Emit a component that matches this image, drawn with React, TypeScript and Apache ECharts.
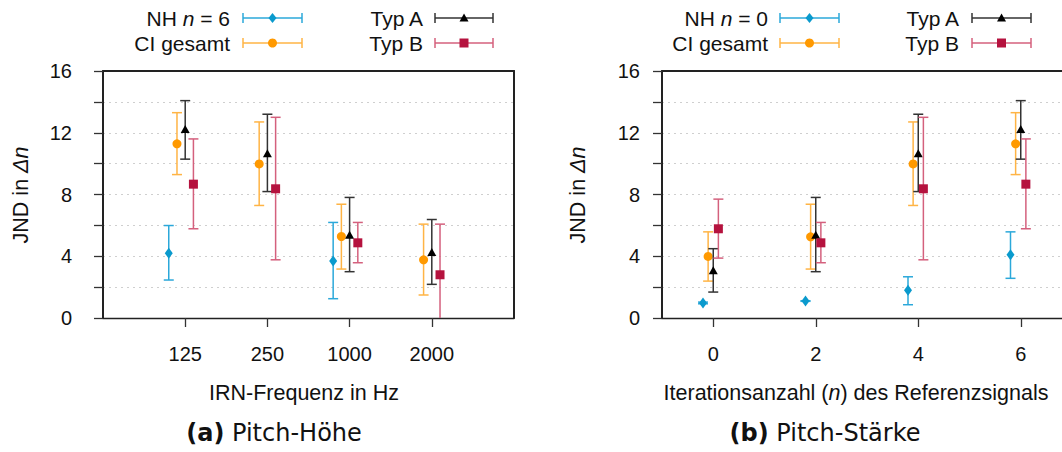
import React, { useEffect, useRef } from "react";
import * as echarts from "echarts";

const FONT = '"Liberation Sans", Arial, sans-serif';
const CAPFONT = '"DejaVu Sans", sans-serif';

// ---- Pitch-Höhe (a) ----
const freqLabels = ["125", "250", "1000", "2000"];
const freqPos = [1, 2, 3, 4];
const hNHMean = [4.2, null, 3.7, null];
const hNHLo = [2.46, null, 1.25, null];
const hNHHi = [5.99, null, 6.19, null];
const hCIMean = [11.28, 9.98, 5.28, 3.77];
const hCILo = [9.29, 7.29, 3.17, 1.49];
const hCIHi = [13.3, 12.7, 7.37, 6.08];
const hAMean = [12.25, 10.67, 5.4, 4.27];
const hALo = [10.29, 8.19, 3.0, 2.18];
const hAHi = [14.08, 13.2, 7.81, 6.38];
const hBMean = [8.67, 8.37, 4.87, 2.8];
const hBLo = [5.78, 3.77, 3.58, -0.5];
const hBHi = [11.6, 13.0, 6.19, 6.08];

// ---- Pitch-Stärke (b) ----
const iterLabels = ["0", "2", "4", "6"];
const iterPos = [0, 2, 4, 6];
const sNHMean = [0.97, 1.1, 1.79, 4.1];
const sNHLo = [0.92, 1.08, 0.86, 2.57];
const sNHHi = [1.03, 1.12, 2.67, 5.58];
const sCIMean = [3.99, 5.26, 9.98, 11.28];
const sCILo = [2.39, 3.17, 7.29, 9.29];
const sCIHi = [5.58, 7.37, 12.7, 13.3];
const sAMean = [3.1, 5.4, 10.67, 12.25];
const sALo = [1.68, 3.0, 8.19, 10.29];
const sAHi = [4.49, 7.81, 13.2, 14.08];
const sBMean = [5.78, 4.87, 8.37, 8.67];
const sBLo = [3.88, 3.58, 3.77, 5.78];
const sBHi = [7.7, 6.19, 13.0, 11.6];

const yLabelValues = [0, 4, 8, 12, 16];
const seriesOffsets = [-0.2, -0.1, 0, 0.1];

const STYLES = [
  { name: "NH", bar: "#2ba8da", mark: "#0a9acd", symbol: "diamond", size: [8, 11] },
  { name: "CI gesamt", bar: "#ffb445", mark: "#ff9900", symbol: "circle", size: 9 },
  { name: "Typ A", bar: "#333333", mark: "#000000", symbol: "triangle", size: [9, 8] },
  { name: "Typ B", bar: "#d4607d", mark: "#b5123e", symbol: "rect", size: 9 },
];

function build(pos: number[], offset: number, mean: (number | null)[], lo: (number | null)[], hi: (number | null)[]) {
  const bars: number[][] = [];
  const pts: number[][] = [];
  pos.forEach((p, i) => {
    const m = mean[i];
    if (m === null || m === undefined) return;
    bars.push([p + offset, lo[i] as number, hi[i] as number]);
    pts.push([p + offset, m]);
  });
  return { bars, pts };
}

function errRender(color: string) {
  return (params: any, api: any) => {
    const x = api.value(0);
    const lo = api.value(1);
    const hi = api.value(2);
    const cs = params.coordSys;
    const bottom = cs.y + cs.height;
    const pLo = api.coord([x, lo]);
    const pHi = api.coord([x, hi]);
    const w = 5;
    const st = { stroke: color, lineWidth: 1.5 };
    const children: any[] = [];
    const yLo = Math.min(pLo[1], bottom);
    children.push({ type: "line", shape: { x1: pLo[0], y1: yLo, x2: pHi[0], y2: pHi[1] }, style: st });
    children.push({ type: "line", shape: { x1: pHi[0] - w, y1: pHi[1], x2: pHi[0] + w, y2: pHi[1] }, style: st });
    if (pLo[1] <= bottom) {
      children.push({ type: "line", shape: { x1: pLo[0] - w, y1: pLo[1], x2: pLo[0] + w, y2: pLo[1] }, style: st });
    }
    return { type: "group", children };
  };
}

function makeSeries(gi: number, pos: number[], groups: any[]) {
  const out: any[] = [];
  groups.forEach((g, k) => {
    const s = STYLES[k];
    const { bars, pts } = build(pos, seriesOffsets[k], g[0], g[1], g[2]);
    out.push({
      type: "custom",
      xAxisIndex: gi,
      yAxisIndex: gi,
      data: bars,
      encode: { x: 0, y: [1, 2] },
      renderItem: errRender(s.bar),
      z: 2 + k * 2,
      silent: true,
    });
    out.push({
      type: "scatter",
      xAxisIndex: gi,
      yAxisIndex: gi,
      data: pts,
      symbol: s.symbol,
      symbolSize: s.size,
      itemStyle: { color: s.mark, opacity: 1 },
      z: 3 + k * 2,
      silent: true,
    });
  });
  return out;
}

function legendMarker(k: number, cx: number, cy: number) {
  const s = STYLES[k];
  const style = { fill: s.mark };
  if (s.symbol === "diamond") {
    return { type: "polygon", shape: { points: [[cx, cy - 5], [cx + 4, cy], [cx, cy + 5], [cx - 4, cy]] }, style, z: 10 };
  }
  if (s.symbol === "circle") {
    return { type: "circle", shape: { cx, cy, r: 4.5 }, style, z: 10 };
  }
  if (s.symbol === "triangle") {
    return { type: "polygon", shape: { points: [[cx, cy - 4.5], [cx + 4.5, cy + 3.5], [cx - 4.5, cy + 3.5]] }, style, z: 10 };
  }
  return { type: "rect", shape: { x: cx - 4.5, y: cy - 4.5, width: 9, height: 9 }, style, z: 10 };
}

const LFS = 21;

function legendEntry(k: number, label: string, textRight: number, x1: number, x2: number, y: number) {
  const s = STYLES[k];
  const st = { stroke: s.bar, lineWidth: 1.5 };
  return [
    {
      type: "text",
      x: textRight,
      y,
      style: {
        text: label,
        align: "right",
        verticalAlign: "middle",
        fontSize: LFS,
        fontFamily: FONT,
        fill: "#111",
        rich: { i: { fontStyle: "italic", fontSize: LFS, fontFamily: FONT, fill: "#111" } },
      },
    },
    { type: "line", shape: { x1, y1: y, x2, y2: y }, style: st },
    { type: "line", shape: { x1, y1: y - 5, x2: x1, y2: y + 5 }, style: st },
    { type: "line", shape: { x1: x2, y1: y - 5, x2, y2: y + 5 }, style: st },
    legendMarker(k, (x1 + x2) / 2, y),
  ];
}

function xAxisCfg(gi: number, min: number, max: number, pos: number[], labels: string[], margin: number) {
  return {
    gridIndex: gi,
    type: "value",
    min,
    max,
    splitLine: { show: false },
    axisLine: { show: true, onZero: false, lineStyle: { color: "#222", width: 1.3 } },
    axisTick: { show: true, customValues: pos, length: 9, inside: false, lineStyle: { color: "#333", width: 1.3 } },
    axisLabel: {
      customValues: pos,
      formatter: (v: number) => {
        const i = pos.indexOf(v);
        return i >= 0 ? labels[i] : "";
      },
      margin,
      fontSize: 20,
      fontFamily: FONT,
      color: "#111",
    },
  };
}

function frameX(gi: number, min: number, max: number) {
  return {
    gridIndex: gi,
    type: "value",
    position: "top",
    min,
    max,
    splitLine: { show: false },
    axisLine: { show: true, onZero: false, lineStyle: { color: "#222", width: 2 } },
    axisTick: { show: false },
    axisLabel: { show: false },
  };
}

function frameY(gi: number) {
  return {
    gridIndex: gi,
    type: "value",
    position: "right",
    min: 0,
    max: 16,
    splitLine: { show: false },
    axisLine: { show: true, onZero: false, lineStyle: { color: "#222", width: 2 } },
    axisTick: { show: false },
    axisLabel: { show: false },
  };
}

function yAxisCfg(gi: number, margin: number) {
  return {
    gridIndex: gi,
    type: "value",
    min: 0,
    max: 16,
    interval: 2,
    axisLine: { show: true, onZero: false, lineStyle: { color: "#222", width: 2 } },
    axisTick: { show: true, length: 9, inside: false, lineStyle: { color: "#333", width: 1.3 } },
    axisLabel: {
      formatter: (v: number) => (yLabelValues.indexOf(v) >= 0 ? String(v) : ""),
      margin,
      fontSize: 20,
      fontFamily: FONT,
      color: "#111",
    },
    splitLine: { show: true, showMinLine: false, showMaxLine: false, lineStyle: { color: "#cfcfcf", width: 1, type: [2, 4] } },
  };
}

const AFS = 21.5;

export default function App() {
  const ref = useRef<HTMLDivElement>(null);
  useEffect(() => {
    document.body.style.margin = "0";
    if (!ref.current) return;
    const chart = echarts.init(ref.current, null, { renderer: "svg" });

    const hGroups = [
      [hNHMean, hNHLo, hNHHi],
      [hCIMean, hCILo, hCIHi],
      [hAMean, hALo, hAHi],
      [hBMean, hBLo, hBHi],
    ];
    const sGroups = [
      [sNHMean, sNHLo, sNHHi],
      [sCIMean, sCILo, sCIHi],
      [sAMean, sALo, sAHi],
      [sBMean, sBLo, sBHi],
    ];

    const yName = (x: number) => ({
      type: "text",
      x,
      y: 195,
      rotation: Math.PI / 2,
      style: {
        text: "JND in {i|Δn}",
        align: "center",
        verticalAlign: "middle",
        fontSize: AFS,
        fontFamily: FONT,
        fill: "#111",
        rich: { i: { fontStyle: "italic", fontSize: AFS, fontFamily: FONT, fill: "#111" } },
      },
    });

    const graphics: any[] = [
      ...legendEntry(0, "NH {i|n} = 6", 230, 243, 302, 18),
      ...legendEntry(1, "CI gesamt", 230, 243, 302, 43),
      ...legendEntry(2, "Typ A", 423, 435, 493, 18),
      ...legendEntry(3, "Typ B", 423, 435, 493, 43),
      ...legendEntry(0, "NH {i|n} = 0", 768, 780, 839, 18),
      ...legendEntry(1, "CI gesamt", 768, 780, 839, 43),
      ...legendEntry(2, "Typ A", 959, 972, 1031, 18),
      ...legendEntry(3, "Typ B", 959, 972, 1031, 43),
      yName(21),
      yName(578),
      {
        type: "text",
        x: 304,
        y: 393,
        style: { text: "IRN-Frequenz in Hz", align: "center", verticalAlign: "middle", fontSize: AFS, fontFamily: FONT, fill: "#111" },
      },
      {
        type: "text",
        x: 856,
        y: 393,
        style: {
          text: "Iterationsanzahl ({i|n}) des Referenzsignals",
          align: "center",
          verticalAlign: "middle",
          fontSize: AFS,
          fontFamily: FONT,
          fill: "#111",
          rich: { i: { fontStyle: "italic", fontSize: AFS, fontFamily: FONT, fill: "#111" } },
        },
      },
      {
        type: "text",
        x: 274,
        y: 433,
        style: {
          text: "{b|(a)} Pitch-Höhe",
          align: "center",
          verticalAlign: "middle",
          fontSize: 24,
          fontFamily: CAPFONT,
          fill: "#111",
          rich: { b: { fontWeight: "bold", fontSize: 24, fontFamily: CAPFONT, fill: "#111" } },
        },
      },
      {
        type: "text",
        x: 825,
        y: 433,
        style: {
          text: "{b|(b)} Pitch-Stärke",
          align: "center",
          verticalAlign: "middle",
          fontSize: 24,
          fontFamily: CAPFONT,
          fill: "#111",
          rich: { b: { fontWeight: "bold", fontSize: 24, fontFamily: CAPFONT, fill: "#111" } },
        },
      },
    ];

    chart.setOption({
      animation: false,
      backgroundColor: "#ffffff",
      grid: [
        { left: 103, top: 71, width: 411, height: 247, outerBoundsMode: "none", containLabel: false },
        { left: 662, top: 71, width: 410, height: 247, outerBoundsMode: "none", containLabel: false },
      ],
      xAxis: [
        xAxisCfg(0, 0, 5, freqPos, freqLabels, 26),
        xAxisCfg(1, -1, 7, iterPos, iterLabels, 26),
        frameX(0, 0, 5),
        frameX(1, -1, 7),
      ],
      yAxis: [yAxisCfg(0, 31), yAxisCfg(1, 22), frameY(0), frameY(1)],
      series: [...makeSeries(0, freqPos, hGroups), ...makeSeries(1, iterPos, sGroups)],
      graphic: graphics,
    });
    return () => chart.dispose();
  }, []);
  return <div ref={ref} style={{ width: 1062, height: 452 }} />;
}
